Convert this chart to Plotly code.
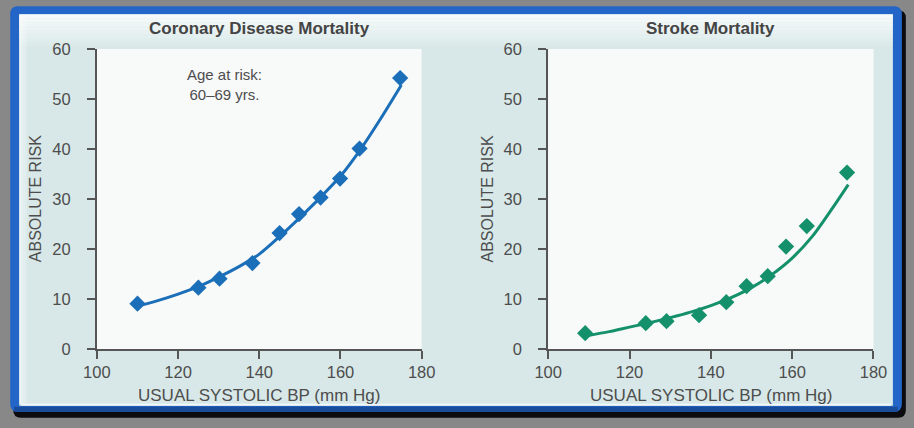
import plotly.graph_objects as go

# ---------------- data ----------------
sbp_coronary = [110.0, 125.0, 130.2, 138.3, 145.0, 149.8, 155.1, 159.9, 164.7, 174.7]
risk_coronary = [9.1, 12.3, 14.1, 17.2, 23.2, 27.0, 30.3, 34.1, 40.1, 54.2]
fit_sbp_coronary = [110, 115, 120, 125, 130, 135, 140, 145, 150, 155, 160, 165, 170, 175]
fit_risk_coronary = [8.6, 9.7, 11.0, 12.5, 14.4, 16.5, 19.0, 22.5, 26.3, 30.3, 34.6, 40.0, 46.2, 52.8]

sbp_stroke = [109.1, 124.0, 129.1, 137.1, 143.8, 148.8, 154.0, 158.5, 163.6, 173.5]
risk_stroke = [3.2, 5.2, 5.6, 6.8, 9.4, 12.6, 14.6, 20.5, 24.6, 35.3]
fit_sbp_stroke = [109.5, 115, 120, 125, 130, 135, 140, 145, 150, 155, 160, 165, 170, 173.8]
fit_risk_stroke = [2.7, 3.5, 4.4, 5.3, 6.3, 7.4, 8.7, 10.3, 12.3, 14.9, 18.2, 22.6, 28.3, 32.9]

x_ticks = [100, 120, 140, 160, 180]
y_ticks = [0, 10, 20, 30, 40, 50, 60]

titles = ["Coronary Disease Mortality", "Stroke Mortality"]
x_title = "USUAL SYSTOLIC BP (mm Hg)"
y_title = "ABSOLUTE RISK"
note = "Age at risk:<br>60–69 yrs."

# ---------------- layout helpers ----------------
W, H = 914, 428
# the captured page is fitted into the 914x428 picture; map target-picture
# coordinates back to figure pixels (measured from earlier renders)
AX, SXI = 11.8, 0.973          # picture_x = AX + SXI * fig_x
MARGIN = 8
SY = (H + 2 * MARGIN) / H      # picture_y = (fig_y + MARGIN) / SY
BLUE = "#1b6fb8"
GREEN = "#14906b"
TXT = "#4d4d4d"
FONT = "Liberation Sans, Arial, sans-serif"


def px(X):
    return ((X - AX) / SXI) / W


def py(Y):
    return 1 - (Y * SY - MARGIN) / H


def rrect(x0, y0, x1, y1, r):
    X0, X1 = px(x0), px(x1)
    Y0, Y1 = py(y0), py(y1)
    rx, ry = r / W, r / H
    return (f"M{X0+rx},{Y0} L{X1-rx},{Y0} Q{X1},{Y0} {X1},{Y0-ry} "
            f"L{X1},{Y1+ry} Q{X1},{Y1} {X1-rx},{Y1} L{X0+rx},{Y1} "
            f"Q{X0},{Y1} {X0},{Y1+ry} L{X0},{Y0-ry} Q{X0},{Y0} {X0+rx},{Y0} Z")


shapes = []
# drop shadow
shapes.append(dict(type="path", path=rrect(11, 9, 907, 419, 8), xref="paper", yref="paper",
                   fillcolor="#0c0c10", line=dict(width=0), layer="below"))
# blue frame
shapes.append(dict(type="path", path=rrect(8, 5, 903, 413, 8), xref="paper", yref="paper",
                   fillcolor="#2466c8", line=dict(width=0), layer="below"))
shapes.append(dict(type="rect", x0=px(12), x1=px(899), y0=py(408), y1=py(413), xref="paper", yref="paper",
                   fillcolor="#1a4c9c", line=dict(width=0), layer="below"))
# inner panel
shapes.append(dict(type="rect", x0=px(17), x1=px(894), y0=py(407), y1=py(13), xref="paper", yref="paper",
                   fillcolor="#d8e8e8", line=dict(width=0), layer="below"))
# top light gradient band
for i in range(8):
    shapes.append(dict(type="rect", x0=px(17), x1=px(894), y0=py(13 + (i + 1) * 4), y1=py(13 + i * 4),
                       xref="paper", yref="paper", fillcolor="white", opacity=0.75 - i * 0.09,
                       line=dict(width=0), layer="below"))
# left bevel
for i in range(4):
    shapes.append(dict(type="rect", x0=px(17 + i * 2), x1=px(19 + i * 2), y0=py(405), y1=py(15),
                       xref="paper", yref="paper", fillcolor="white", opacity=0.5 - i * 0.11,
                       line=dict(width=0), layer="below"))
# bottom highlight
shapes.append(dict(type="rect", x0=px(19), x1=px(892), y0=py(407), y1=py(405), xref="paper", yref="paper",
                   fillcolor="white", opacity=0.7, line=dict(width=0), layer="below"))

# plot areas (light)
dom1 = [px(95), px(421)]
dom2 = [px(548), px(874.5)]
ydom = [py(350), py(48)]
for d in (dom1, dom2):
    shapes.append(dict(type="rect", x0=d[0], x1=d[1], y0=ydom[0], y1=ydom[1], xref="paper", yref="paper",
                       fillcolor="#f8f9f9", line=dict(width=0), layer="below"))

fig = go.Figure()

fig.add_trace(go.Scatter(x=fit_sbp_coronary, y=fit_risk_coronary, mode="lines",
                         line=dict(color=BLUE, width=3, shape="spline", smoothing=0.8),
                         xaxis="x", yaxis="y", hoverinfo="skip", showlegend=False))
fig.add_trace(go.Scatter(x=sbp_coronary, y=risk_coronary, mode="markers",
                         marker=dict(symbol="diamond", size=12.5, color=BLUE), xaxis="x", yaxis="y", showlegend=False))
fig.add_trace(go.Scatter(x=fit_sbp_stroke, y=fit_risk_stroke, mode="lines",
                         line=dict(color=GREEN, width=3, shape="spline", smoothing=0.8),
                         xaxis="x2", yaxis="y2", hoverinfo="skip", showlegend=False))
fig.add_trace(go.Scatter(x=sbp_stroke, y=risk_stroke, mode="markers",
                         marker=dict(symbol="diamond", size=12.5, color=GREEN), xaxis="x2", yaxis="y2", showlegend=False))

xaxis_common = dict(range=[100, 180], tickvals=x_ticks, showgrid=False, zeroline=False,
                    showline=True, linecolor="#555555", linewidth=2, ticks="outside", ticklen=8,
                    tickwidth=1.5, tickcolor="#555555", tickfont=dict(family=FONT, size=16.5, color=TXT),
                    ticklabelstandoff=-1, fixedrange=True)
yaxis_common = dict(range=[0, 60], tickvals=y_ticks, showgrid=False, zeroline=False,
                    showline=True, linecolor="#555555", linewidth=2, ticks="outside", ticklen=8,
                    tickwidth=1.5, tickcolor="#555555", tickfont=dict(family=FONT, size=16.5, color=TXT),
                    ticklabelstandoff=13, fixedrange=True, domain=ydom)

annotations = []
for d, t in zip((dom1, dom2), titles):
    cx = (d[0] + d[1]) / 2
    annotations.append(dict(text=f"<b>{t}</b>", x=cx, y=py(27.5), xref="paper", yref="paper",
                            showarrow=False, xanchor="center", yanchor="middle",
                            font=dict(family=FONT, size=17, color="#444444")))
    annotations.append(dict(text=x_title, x=cx, y=py(397), xref="paper", yref="paper",
                            showarrow=False, xanchor="center", yanchor="middle",
                            font=dict(family=FONT, size=17, color=TXT)))
for xc in (33, 487):
    annotations.append(dict(text=y_title, x=px(xc), y=py(199), xref="paper", yref="paper", textangle=-90,
                            showarrow=False, xanchor="center", yanchor="middle",
                            font=dict(family=FONT, size=16, color=TXT)))
annotations.append(dict(text=note, x=px(223), y=py(83.5), xref="paper", yref="paper",
                        showarrow=False, xanchor="center", yanchor="middle",
                        font=dict(family=FONT, size=15, color=TXT)))

fig.update_layout(
    width=W, height=H, margin=dict(l=0, r=0, t=0, b=0),
    paper_bgcolor="#888888", plot_bgcolor="rgba(0,0,0,0)",
    xaxis=dict(domain=dom1, anchor="y", **xaxis_common),
    yaxis=dict(anchor="x", **yaxis_common),
    xaxis2=dict(domain=dom2, anchor="y2", **xaxis_common),
    yaxis2=dict(anchor="x2", **yaxis_common),
    shapes=shapes, annotations=annotations, showlegend=False,
)

fig.write_html("out.html", post_script="document.body.style.background='#888888';"
                                       "document.documentElement.style.background='#888888';")
